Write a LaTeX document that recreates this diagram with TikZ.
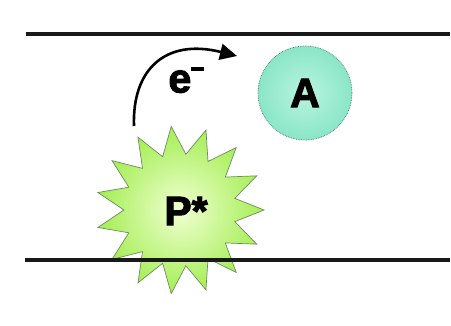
\documentclass[tikz,border=0pt]{standalone}
\usepackage{fontspec}
\setmainfont{Liberation Sans}
\newfontfamily\heavyfont[FakeBold=2.5]{Liberation Sans Bold}
\usetikzlibrary{shapes.geometric,arrows.meta}
\begin{document}
\begin{tikzpicture}[x=1pt,y=-1pt,
  lbl/.style={font=\fontsize{41}{41}\selectfont\heavyfont, text=black},
  memline/.style={line width=3.4pt, black!90},
  star shape/.style={star, star points=15, star point ratio=1.5, minimum size=168pt,
     inner color={rgb,255:red,240;green,255;blue,210}, outer color={rgb,255:red,165;green,238;blue,85}, draw={rgb,255:red,110;green,140;blue,95}, line width=0.7pt, inner sep=0pt},
  acc/.style={circle, minimum size=94pt, inner sep=0pt,
     inner color={rgb,255:red,185;green,244;blue,224}, outer color={rgb,255:red,138;green,230;blue,198}, draw={rgb,255:red,70;green,120;blue,110}, densely dotted, line width=0.7pt}
]
\useasboundingbox (0,0) rectangle (451,326);
\fill[white] (0,0) rectangle (451,326);
\coordinate (tl) at (26,34); \coordinate (tr) at (450,34);
\coordinate (bl) at (25,260); \coordinate (br) at (450,260);
\draw[memline] (tl) -- (tr);
\node[star shape, rotate=6] (P) at (180,210) {};
\draw[memline] (bl) -- (br);
\node[lbl] at (186,211) {P*};
\node[acc] (A) at (305,93) {};
\node[lbl] (Alab) at (305,93) {A};
\node[lbl] (e) at (186,80) {e\raisebox{0.52em}{\rule{0.3em}{0.1em}}};
\coordinate (s) at (134,126);
\coordinate (t) at (237,56);
\draw[line width=2.6pt, -{Triangle[length=17pt,width=16pt]}] (s) .. controls (132,70) and (165,38) .. (t);
\end{tikzpicture}
\end{document}
